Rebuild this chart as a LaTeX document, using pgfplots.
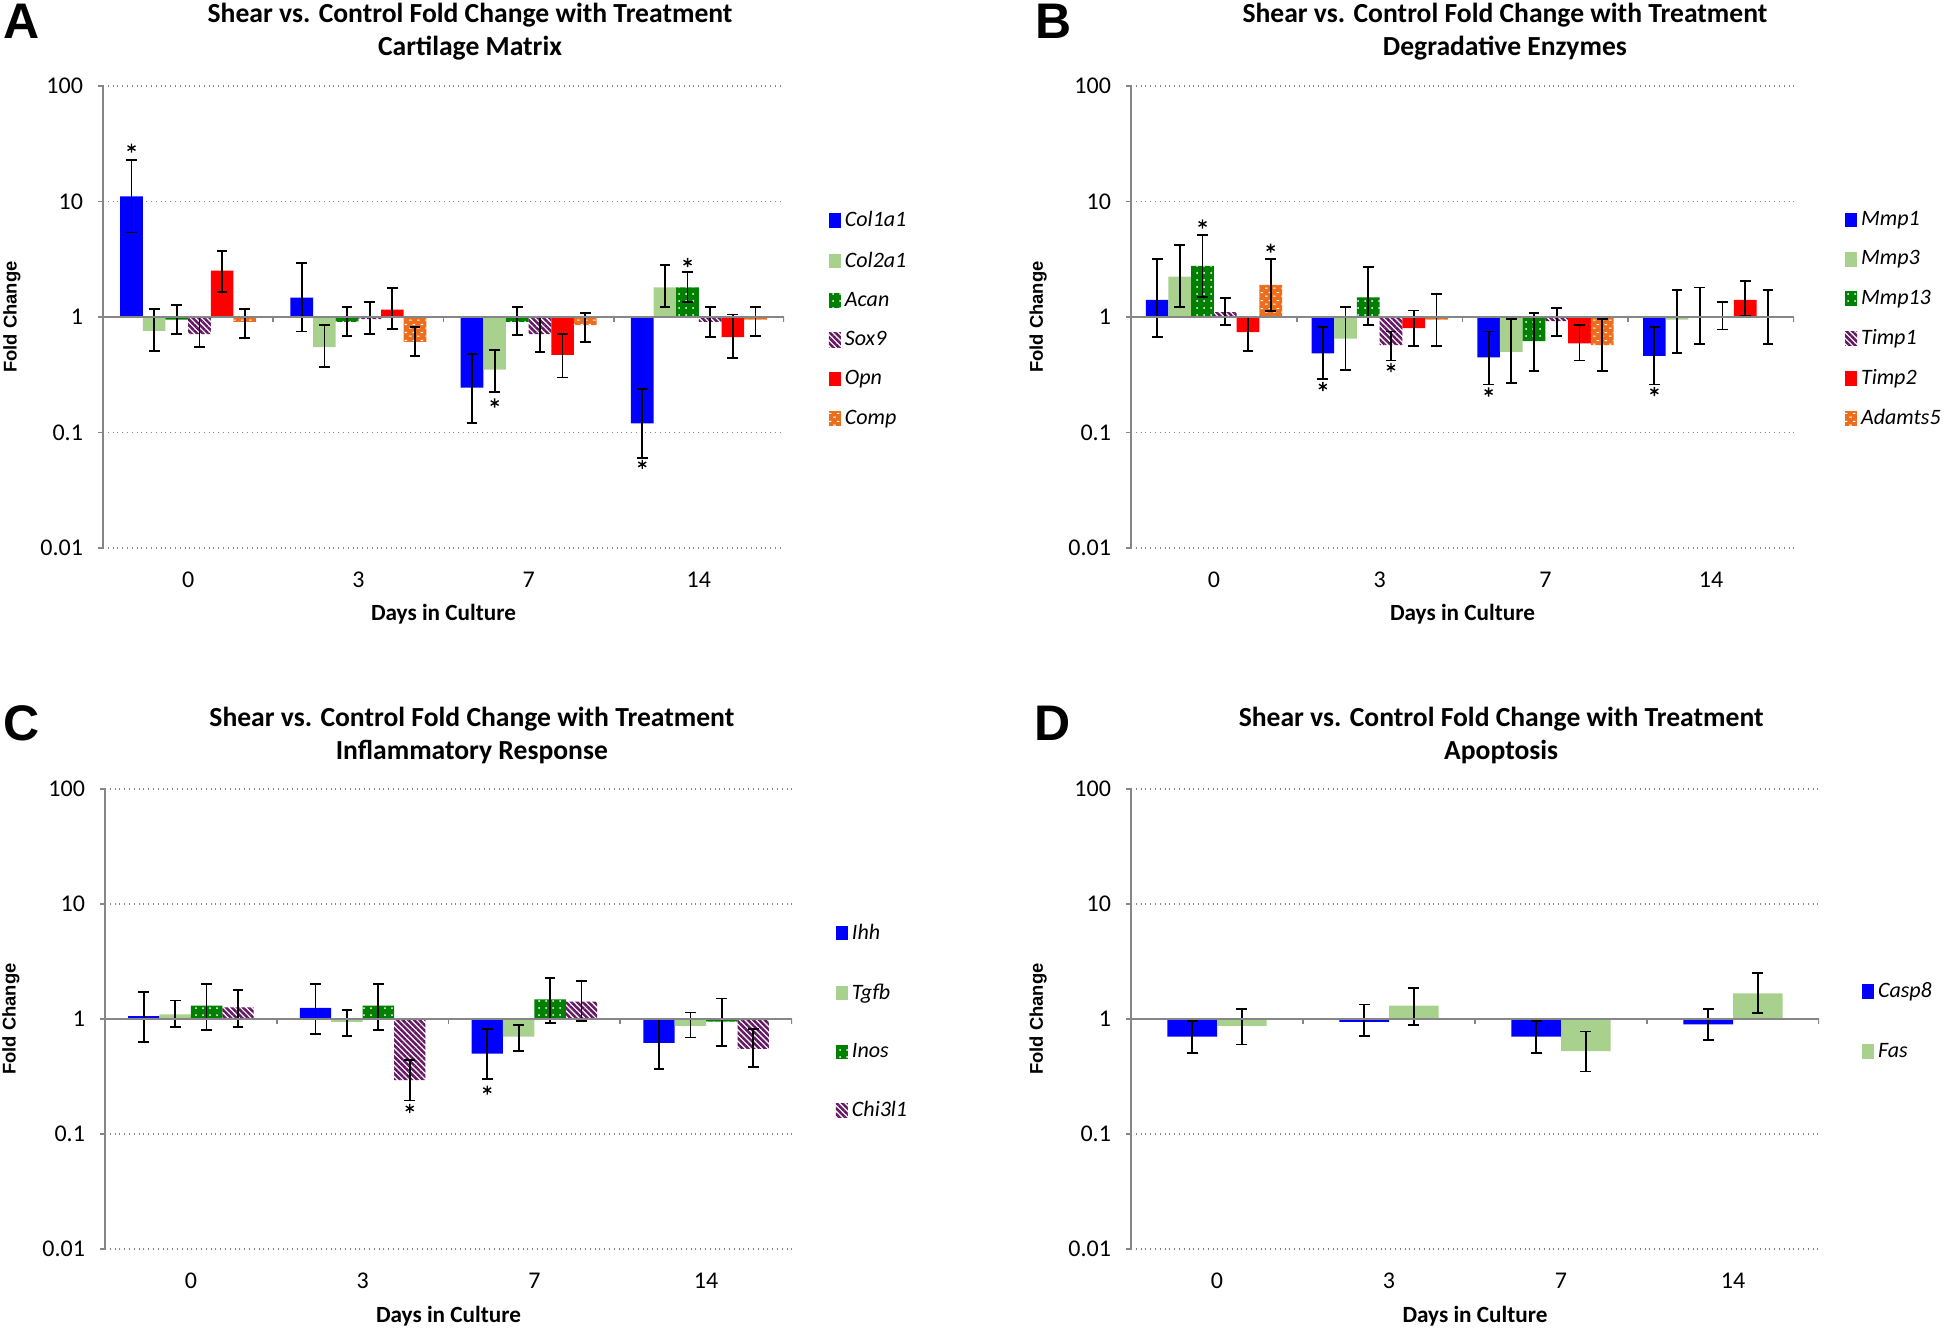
\documentclass[border=0pt]{standalone}
\usepackage{pgfplots}
\pgfplotsset{compat=1.18}
\usepackage{pgfplotstable}
\usetikzlibrary{patterns,patterns.meta}
\usepackage{fontspec}
\setmainfont{Carlito}
\newfontfamily\lsans{Liberation Sans}

\definecolor{cblue}{RGB}{0,0,255}
\definecolor{clgreen}{RGB}{169,209,142}
\definecolor{cdgreen}{RGB}{0,128,0}
\definecolor{cpurple}{RGB}{100,24,100}
\definecolor{cred}{RGB}{255,0,0}
\definecolor{corange}{RGB}{235,110,30}
\definecolor{caxis}{RGB}{134,134,134}

\pgfdeclarepatternformonly{brickdash}{\pgfqpoint{0pt}{0pt}}{\pgfqpoint{4pt}{4pt}}{\pgfqpoint{4pt}{4pt}}{%
  \pgfpathrectangle{\pgfqpoint{0.6pt}{0.7pt}}{\pgfqpoint{1.5pt}{0.6pt}}%
  \pgfpathrectangle{\pgfqpoint{2.6pt}{2.7pt}}{\pgfqpoint{1.4pt}{0.6pt}}%
  \pgfusepath{fill}}

% Panel A: Cartilage Matrix
\pgfplotstableread{
x  a     ah    al    b    bh   bl    c    ch   cl   d    dh   dl   e    eh   el   f    fh   fl
0  11.1  22.9  5.4   0.76 1.18 0.51  0.95 1.28 0.71 0.71 1.00 0.55 2.52 3.74 1.66 0.91 1.17 0.66
1  1.47  2.92  0.75  0.55 0.85 0.37  0.91 1.23 0.68 0.96 1.34 0.71 1.16 1.78 0.79 0.61 0.82 0.46
2  0.245 0.48  0.12  0.35 0.52 0.225 0.91 1.23 0.70 0.71 1.00 0.50 0.47 0.71 0.30 0.85 1.08 0.61
3  0.12  0.237 0.06  1.81 2.80 1.23  1.81 2.46 1.34 0.91 1.23 0.67 0.67 1.05 0.44 0.95 1.22 0.69
}\tabA
% Panel B: Degradative Enzymes
\pgfplotstableread{
x  a     ah    al    b    bh   bl    c    ch   cl   d    dh   dl   e    eh   el   f    fh   fl
0  1.41  3.20  0.67  2.24 4.20 1.23  2.77 5.10 1.50 1.10 1.45 0.85 0.74 1.00 0.51 1.90 3.20 1.13
1  0.485 0.82  0.29  0.65 1.23 0.35  1.48 2.72 0.85 0.57 0.75 0.42 0.80 1.14 0.56 0.95 1.58 0.56
2  0.447 0.75  0.26  0.50 0.96 0.27  0.62 1.08 0.34 0.92 1.19 0.69 0.59 0.85 0.42 0.57 0.96 0.34
3  0.46  0.82  0.26  0.95 1.71 0.49  1.00 1.80 0.58 1.00 1.34 0.78 1.41 2.05 1.02 1.00 1.71 0.58
}\tabB
% Panel C: Inflammatory Response
\pgfplotstableread{
x  a     ah    al    b     bh    bl    c    ch   cl   d     dh   dl
0  1.06  1.72  0.63  1.10  1.45  0.85  1.31 2.03 0.80 1.26  1.80 0.85
1  1.25  2.03  0.74  0.945 1.19  0.71  1.31 2.03 0.80 0.295 0.44 0.196
2  0.50  0.82  0.30  0.705 0.885 0.53  1.48 2.29 0.92 1.42  2.13 0.96
3  0.62  1.00  0.37  0.87  1.14  0.69  0.95 1.51 0.58 0.55  0.82 0.38
}\tabC
% Panel D: Apoptosis
\pgfplotstableread{
x  a     ah    al    b     bh    bl
0  0.705 0.96  0.51  0.87  1.22  0.60
1  0.945 1.34  0.71  1.31  1.87  0.885
2  0.705 0.96  0.51  0.525 0.78  0.35
3  0.90  1.22  0.66  1.67  2.50  1.13
}\tabD

\pgfplotsset{/pgf/number format/assume math mode=true}
\pgfplotsset{
    scale only axis, ymin=0.01, ymax=100,
    xmin=-0.5, xmax=3.5,
    axis y line*=left, axis x line*=bottom,
    x axis line style={draw=none},
    y axis line style={caxis, line width=0.8pt},
    xtick={0,1,2,3}, xticklabels={0,3,7,14},
    xtick style={draw=none},
    ytick={0.01,0.1,1,10,100}, yticklabels={0.01,0.1,1,10,100},
    ytick style={caxis, line width=0.8pt},
    tick align=outside, major tick length=2.5pt,
    yminorticks=false,
    ymajorgrids, grid style={dotted, line width=0.8pt, caxis},
    tick label style={font=\fontsize{12}{14}\selectfont},
    xticklabel style={yshift=-6pt},
    yticklabel style={xshift=-4pt},
    xlabel={Days in Culture},
    xlabel style={font=\bfseries\fontsize{11.6}{13}\selectfont, anchor=center},
    ylabel={Fold Change},
    ylabel style={font=\lsans\bfseries\fontsize{9.2}{10}\selectfont, anchor=center},
    title style={font=\bfseries\fontsize{13.8}{16.5}\selectfont, align=center, anchor=center},
    legend style={draw=none, fill=none, anchor=north west, font=\itshape\fontsize{11}{13}\selectfont,
      inner sep=0pt, outer sep=0pt},
    legend cell align=left,
}
\pgfplotsset{
  sqlegend/.style={legend image code/.code={\fill[##1] (0pt,-3.6pt) rectangle (6pt,3.6pt);}},
  myeb/.style={/pgfplots/error bars/y dir=both, /pgfplots/error bars/y explicit,
    /pgfplots/error bars/error bar style={draw=black, line width=0.9pt},
    /pgfplots/error bars/error mark options={rotate=90, draw=black, line width=0.9pt, mark size=2.7pt}},
  sBlue/.style={fill=cblue, draw=none},
  sLG/.style={fill=clgreen, draw=none},
  sDG/.style={fill=cdgreen, draw=none, postaction={pattern={Dots[distance=3.5pt, radius=0.5pt]}, pattern color=white}},
  sPur/.style={draw=none, pattern={Lines[angle=-45, distance=2pt, line width=1.25pt]}, pattern color=cpurple},
  sRed/.style={fill=cred, draw=none},
  sOr/.style={fill=corange, draw=none, postaction={pattern=brickdash, pattern color=white}},
  oneline/.style={forget plot, sharp plot, no marks, caxis, line width=0.9pt, unbounded coords=jump},
  astmarks/.style={forget plot, only marks, mark=asterisk, mark size=2.3pt, black, mark options={line width=0.7pt}},
}

\newcommand{\bars}[3]{\addplot[#2, myeb] table[x=x, y=#3,
   y error plus expr=\thisrow{#3h}-\thisrow{#3}, y error minus expr=\thisrow{#3}-\thisrow{#3l}] {#1};}

\begin{document}
\begin{tikzpicture}
\useasboundingbox (0,0) rectangle (973pt,-665pt);

% ---------- A ----------
\begin{axis}[ymode=log, ybar=0pt, sqlegend, at={(51.5pt,-43pt)}, anchor=north west, width=340.5pt, height=231pt,
  bar width=0.133,
  title={Shear vs. Control Fold Change with Treatment\\Cartilage Matrix},
  title style={at={(axis description cs:0.539,1.092)}},
  xlabel style={at={(axis description cs:0.5,-0.143)}},
  ylabel style={at={(axis description cs:-0.1336,0.5)}},
  legend style={at={(axis description cs:1.066,0.737)}, row sep=7.0pt}]
\bars{\tabA}{sBlue}{a}\addlegendentry{Col1a1}
\bars{\tabA}{sLG}{b}\addlegendentry{Col2a1}
\bars{\tabA}{sDG}{c}\addlegendentry{Acan}
\bars{\tabA}{sPur}{d}\addlegendentry{Sox9}
\bars{\tabA}{sRed}{e}\addlegendentry{Opn}
\bars{\tabA}{sOr}{f}\addlegendentry{Comp}
\addplot[oneline] coordinates {(-0.5,1) (3.5,1) (3.5,nan) (0.5,1) (0.5,0.905) (0.5,nan) (1.5,1) (1.5,0.905) (1.5,nan) (2.5,1) (2.5,0.905) (2.5,nan) (3.5,1) (3.5,0.905)};
\addplot[astmarks] coordinates {(-0.3325,29) (1.8005,0.18) (2.6675,0.053) (2.9335,2.96)};
\end{axis}

% ---------- B ----------
\begin{axis}[ymode=log, ybar=0pt, sqlegend, at={(565.5pt,-43pt)}, anchor=north west, width=331.5pt, height=231pt,
  bar width=0.137,
  title={Shear vs. Control Fold Change with Treatment\\Degradative Enzymes},
  title style={at={(axis description cs:0.564,1.092)}},
  xlabel style={at={(axis description cs:0.5,-0.143)}},
  ylabel style={at={(axis description cs:-0.140,0.5)}},
  legend style={at={(axis description cs:1.077,0.737)}, row sep=7.0pt}]
\bars{\tabB}{sBlue}{a}\addlegendentry{Mmp1}
\bars{\tabB}{sLG}{b}\addlegendentry{Mmp3}
\bars{\tabB}{sDG}{c}\addlegendentry{Mmp13}
\bars{\tabB}{sPur}{d}\addlegendentry{Timp1}
\bars{\tabB}{sRed}{e}\addlegendentry{Timp2}
\bars{\tabB}{sOr}{f}\addlegendentry{Adamts5}
\addplot[oneline] coordinates {(-0.5,1) (3.5,1) (3.5,nan) (0.5,1) (0.5,0.905) (0.5,nan) (1.5,1) (1.5,0.905) (1.5,nan) (2.5,1) (2.5,0.905) (2.5,nan) (3.5,1) (3.5,0.905)};
\addplot[astmarks] coordinates {(-0.0685,6.4) (0.3425,3.95) (0.6575,0.25) (1.0685,0.365) (1.6575,0.224) (2.6575,0.227)};
\end{axis}

% ---------- C ----------
\begin{axis}[ymode=log, ybar=0pt, sqlegend, at={(52.5pt,-394.5pt)}, anchor=north west, width=343.5pt, height=230pt,
  bar width=0.183,
  title={Shear vs. Control Fold Change with Treatment\\Inflammatory Response},
  title style={at={(axis description cs:0.534,1.09)}},
  xlabel style={at={(axis description cs:0.5,-0.146)}},
  ylabel style={at={(axis description cs:-0.137,0.5)}},
  legend style={at={(axis description cs:1.064,0.715)}, row sep=16.6pt}]
\bars{\tabC}{sBlue}{a}\addlegendentry{Ihh}
\bars{\tabC}{sLG}{b}\addlegendentry{Tgfb}
\bars{\tabC}{sDG}{c}\addlegendentry{Inos}
\bars{\tabC}{sPur}{d}\addlegendentry{Chi3l1}
\addplot[oneline] coordinates {(-0.5,1) (3.5,1) (3.5,nan) (0.5,1) (0.5,0.905) (0.5,nan) (1.5,1) (1.5,0.905) (1.5,nan) (2.5,1) (2.5,0.905) (2.5,nan) (3.5,1) (3.5,0.905)};
\addplot[astmarks] coordinates {(1.2745,0.167) (1.7255,0.241)};
\end{axis}

% ---------- D ----------
\begin{axis}[ymode=log, ybar=0pt, sqlegend, at={(565.5pt,-394.5pt)}, anchor=north west, width=344pt, height=230pt,
  bar width=0.288,
  title={Shear vs. Control Fold Change with Treatment\\Apoptosis},
  title style={at={(axis description cs:0.538,1.09)}},
  xlabel style={at={(axis description cs:0.5,-0.146)}},
  ylabel style={at={(axis description cs:-0.135,0.5)}},
  legend style={at={(axis description cs:1.0625,0.588)}, row sep=17.2pt}]
\bars{\tabD}{sBlue}{a}\addlegendentry{Casp8}
\bars{\tabD}{sLG}{b}\addlegendentry{Fas}
\addplot[oneline] coordinates {(-0.5,1) (3.5,1) (3.5,nan) (0.5,1) (0.5,0.905) (0.5,nan) (1.5,1) (1.5,0.905) (1.5,nan) (2.5,1) (2.5,0.905) (2.5,nan) (3.5,1) (3.5,0.905)};
\end{axis}

% panel letters
\node[font=\lsans\bfseries\fontsize{25}{25}\selectfont] at (11pt,-10.5pt) {A};
\node[font=\lsans\bfseries\fontsize{25}{25}\selectfont] at (527pt,-10.5pt) {B};
\node[font=\lsans\bfseries\fontsize{25}{25}\selectfont] at (11pt,-361.5pt) {C};
\node[font=\lsans\bfseries\fontsize{25}{25}\selectfont] at (526.5pt,-361.5pt) {D};
\end{tikzpicture}
\end{document}
